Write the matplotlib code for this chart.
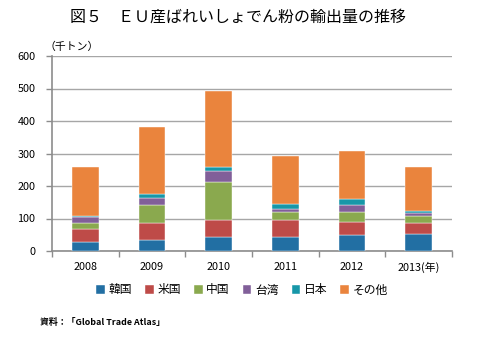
import matplotlib
matplotlib.use("Agg")
import matplotlib.pyplot as plt
import numpy as np

plt.rcParams['font.family'] = ['Noto Sans CJK JP', 'DejaVu Sans']

years = ["2008", "2009", "2010", "2011", "2012", "2013(年)"]
series_names = ["韓国", "米国", "中国", "台湾", "日本", "その他"]
korea = [27, 33, 44, 42, 48, 52]
usa = [41, 52, 52, 54, 42, 35]
china = [19, 57, 115, 24, 30, 22]
taiwan = [19, 22, 35, 9, 23, 8]
japan = [2, 12, 12, 15, 16, 7]
other = [151, 207, 234, 147, 150, 134]
colors = ["#226FA3", "#BE4B48", "#8AA94E", "#815F99", "#1797A8", "#EA843D"]

data = [korea, usa, china, taiwan, japan, other]

fig = plt.figure(figsize=(4.79, 3.41), dpi=100)
ax = fig.add_axes([52/479, 1-251/341, 400/479, 195/341])

x = np.arange(len(years))
bottom = np.zeros(len(years))
for name, vals, c in zip(series_names, data, colors):
    vals = np.array(vals, dtype=float)
    ax.bar(x, vals, 0.4, bottom=bottom, color=c, label=name, edgecolor='white', linewidth=0.3, zorder=3)
    bottom += vals

ax.set_xlim(-0.5, len(years) - 0.5)
ax.set_ylim(0, 600)
ax.set_yticks(range(0, 601, 100))
ax.yaxis.grid(True, color='#A6A6A6', linewidth=1.0, zorder=0)
ax.set_xticks(x)
ax.set_xticklabels(years, fontsize=7.8)
ax.tick_params(axis='x', length=0, pad=8)
ax.set_xticks(np.arange(-0.5, len(years), 1), minor=True)
ax.tick_params(axis='x', which='minor', length=4, color='#8C8C8C', width=1)
ax.tick_params(axis='y', length=4, color='#8C8C8C', width=1, labelsize=7.8, pad=8)
for s in ['top', 'right']:
    ax.spines[s].set_visible(False)
ax.spines['left'].set_color('#8C8C8C')
ax.spines['left'].set_linewidth(1.2)
ax.spines['bottom'].set_color('#8C8C8C')
ax.spines['bottom'].set_linewidth(1.2)

fig.text(238/479, 1-17/341, "図５　ＥＵ産ばれいしょでん粉の輸出量の推移", ha='center', va='center', fontsize=11.5)
fig.text(44/479, 1-47/341, "（千トン）", ha='left', va='center', fontsize=7.8)

handles, labels = ax.get_legend_handles_labels()
fig.legend(handles, labels, loc='center', bbox_to_anchor=(242/479, 1-290/341), ncol=6, frameon=False,
           fontsize=8.5, handlelength=0.75, handleheight=0.75, handletextpad=0.3, columnspacing=1.1)
fig.text(40/479, 1-322/341, "資料：「Global Trade Atlas」", ha='left', va='center', fontsize=6.4, fontweight='bold')

fig.savefig("out.png", dpi=100)
